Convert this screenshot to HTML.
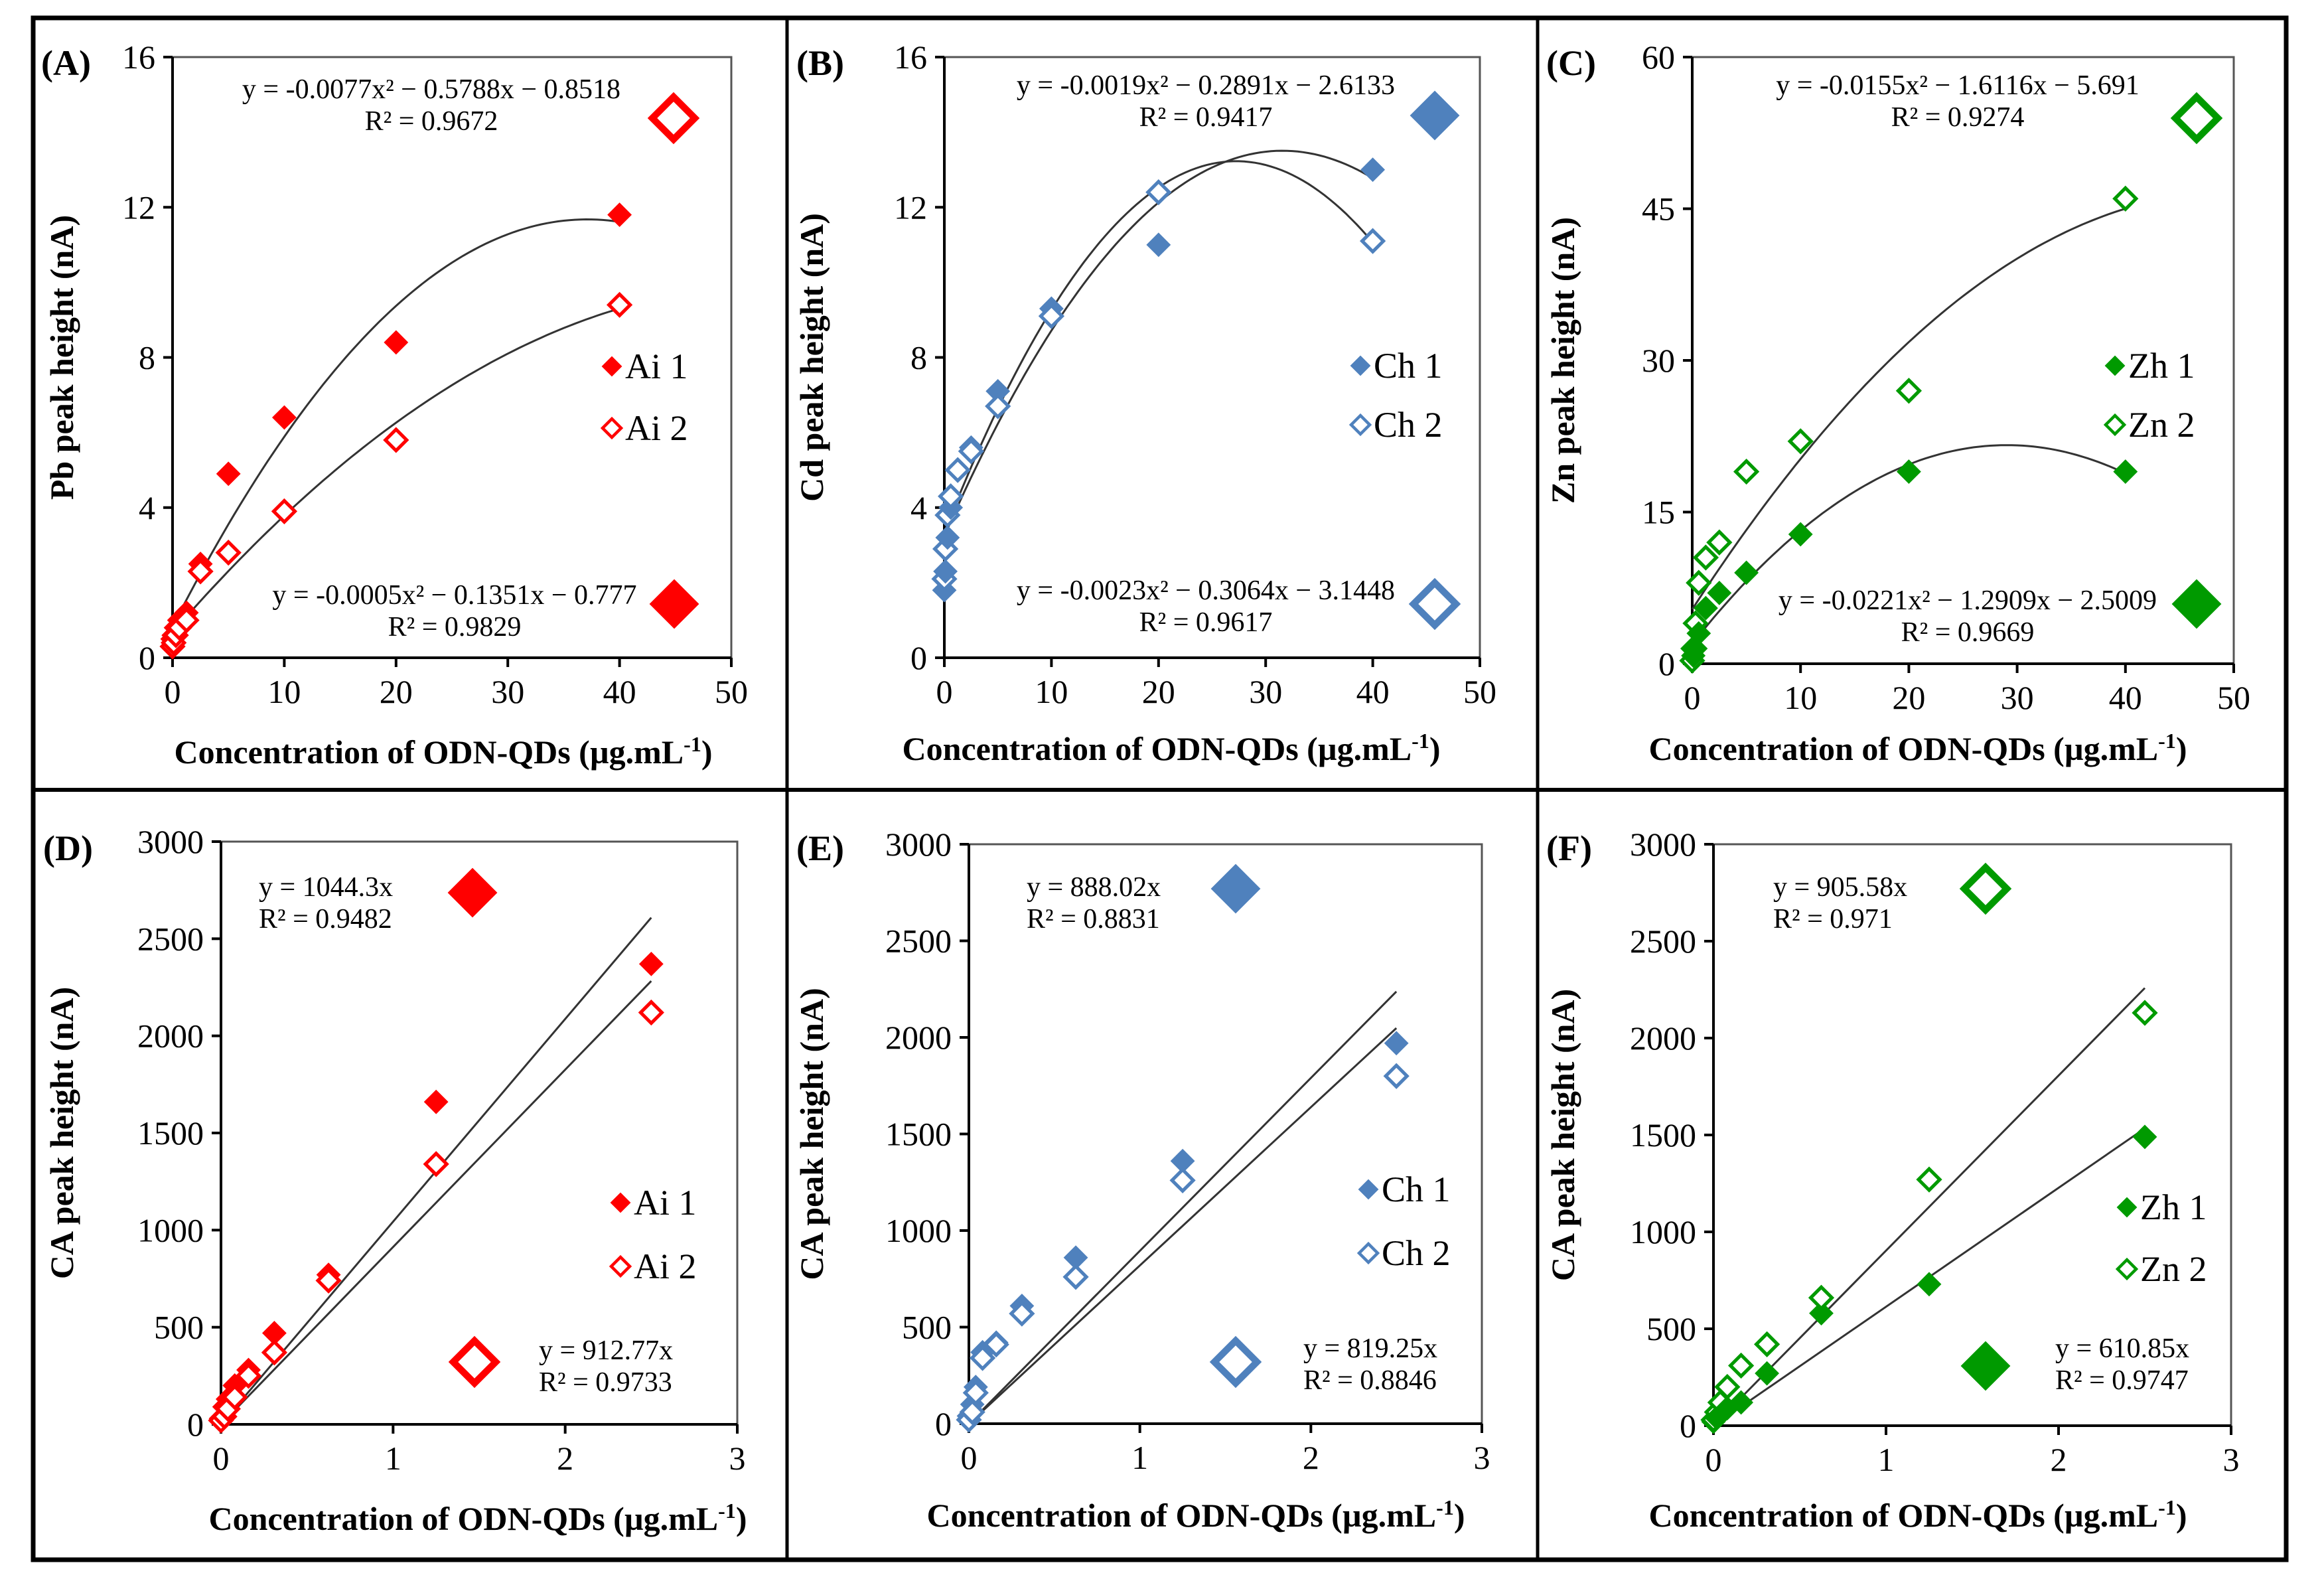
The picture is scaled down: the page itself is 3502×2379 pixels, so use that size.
<!DOCTYPE html>
<html><head><meta charset="utf-8">
<style>
html,body{margin:0;padding:0;background:#fff;}
svg{display:block;font-family:"Liberation Serif",serif;}
</style></head>
<body>
<svg id="fig" width="3502" height="2379" viewBox="0 0 3502 2379" xmlns="http://www.w3.org/2000/svg">
<rect x="50" y="27" width="3395" height="2323" fill="none" stroke="#000" stroke-width="7"/>
<line x1="1186" y1="27" x2="1186" y2="2350" stroke="#000" stroke-width="5"/>
<line x1="2317" y1="27" x2="2317" y2="2350" stroke="#000" stroke-width="5"/>
<line x1="50" y1="1190" x2="3445" y2="1190" stroke="#000" stroke-width="6"/>
</svg>
<script>
// ---- shared x categories ----
const xTop = [0, 0.1, 0.3, 0.6, 1.25, 2.5, 5, 10, 20, 40];
const xBot = [0, 0.02, 0.04, 0.08, 0.16, 0.31, 0.625, 1.25, 2.5];
// ---- Panel A (Pb) ----
const aS1 = [0.5, 0.6, 0.8, 1.0, 1.2, 2.5, 4.9, 6.4, 8.4, 11.8];
const aS2 = [0.3, 0.4, 0.6, 0.8, 1.0, 2.3, 2.8, 3.9, 5.8, 9.4];
// ---- Panel B (Cd) ----
const bS1 = [1.8, 2.3, 3.2, 4.0, 5.0, 5.6, 7.1, 9.3, 11.0, 13.0];
const bS2 = [2.1, 2.9, 3.8, 4.3, 5.0, 5.5, 6.7, 9.1, 12.4, 11.1];
// ---- Panel C (Zn) ----
const cS1 = [0.3, 0.8, 1.5, 3.0, 5.5, 7.0, 9.0, 12.8, 19.0, 19.0];
const cS2 = [0.3, 1.5, 4.0, 8.0, 10.5, 12.0, 19.0, 22.0, 27.0, 46.0];
// ---- Panel D (Pb CA) ----
const dS1 = [30, 90, 130, 200, 280, 470, 770, 1660, 2370];
const dS2 = [20, 40, 80, 140, 250, 370, 740, 1340, 2120];
// ---- Panel E (Cd CA) ----
const eS1 = [40, 100, 190, 370, 420, 610, 860, 1360, 1970];
const eS2 = [20, 60, 160, 340, 410, 570, 760, 1260, 1800];
// ---- Panel F (Zn CA) ----
const fS1 = [20, 40, 60, 90, 120, 270, 580, 730, 1490];
const fS2 = [30, 70, 120, 200, 310, 420, 660, 1270, 2130];
// ---- tick labels ----
const xTicksTop = [0, 10, 20, 30, 40, 50];
const xTicksBot = [0, 1, 2, 3];
const yTicksPbCd = [0, 4, 8, 12, 16];
const yTicksZn = [0, 15, 30, 45, 60];
const yTicksCA = [0, 500, 1000, 1500, 2000, 2500, 3000];

const NS = "http://www.w3.org/2000/svg";
const svg = document.getElementById('fig');
function mk(tag, attrs, parent) {
  const e = document.createElementNS(NS, tag);
  for (const k in attrs) e.setAttribute(k, attrs[k]);
  (parent || svg).appendChild(e);
  return e;
}
function diamond(cx, cy, r, color, filled, parent) {
  return mk('path', {d: `M${cx},${cy-r}L${cx+r},${cy}L${cx},${cy+r}L${cx-r},${cy}Z`,
    fill: filled ? color : '#fff', stroke: color, 'stroke-width': filled ? 2 : Math.max(4, r*0.32)}, parent);
}
function quadFit(xs, ys) {
  let s = [0,0,0,0,0], t = [0,0,0];
  for (let i = 0; i < xs.length; i++) {
    const x = xs[i], y = ys[i];
    for (let p = 0; p < 5; p++) s[p] += Math.pow(x, p);
    for (let p = 0; p < 3; p++) t[p] += y * Math.pow(x, p);
  }
  const M = [[s[0],s[1],s[2],t[0]],[s[1],s[2],s[3],t[1]],[s[2],s[3],s[4],t[2]]];
  for (let i = 0; i < 3; i++) {
    for (let j = i+1; j < 3; j++) {
      const f = M[j][i] / M[i][i];
      for (let k = i; k < 4; k++) M[j][k] -= f * M[i][k];
    }
  }
  const c = [0,0,0];
  for (let i = 2; i >= 0; i--) {
    let v = M[i][3];
    for (let k = i+1; k < 3; k++) v -= M[i][k] * c[k];
    c[i] = v / M[i][i];
  }
  return c;
}
function originFit(xs, ys) {
  let a = 0, b = 0;
  for (let i = 0; i < xs.length; i++) { a += xs[i]*ys[i]; b += xs[i]*xs[i]; }
  return a / b;
}

const panels = [
 {id:'a', label:'(A)', L:260, T:86, R:1102, B:991, xmax:50, ymax:16, xs:xTop, s1:aS1, s2:aS2, xt:xTicksTop, yt:yTicksPbCd,
  color:'#ff0000', ytitle:'Pb peak height (nA)', leg:['Ai 1','Ai 2'], fit:'quad',
  eq1:['y = -0.0077x² − 0.5788x − 0.8518','R² = 0.9672'], eq1pos:[650,148,'middle'],
  eq2:['y = -0.0005x² − 0.1351x − 0.777','R² = 0.9829'], eq2pos:[685,910,'middle'],
  big1:[1016,910], big2:[1015,178], legpos:[922,552,645], xtitle:[668,1150], ytx:110, lab:[62,95]},
 {id:'b', label:'(B)', L:1423, T:86, R:2230, B:991, xmax:50, ymax:16, xs:xTop, s1:bS1, s2:bS2, xt:xTicksTop, yt:yTicksPbCd,
  color:'#4f81bd', ytitle:'Cd peak height (nA)', leg:['Ch 1','Ch 2'], fit:'quad',
  eq1:['y = -0.0019x² − 0.2891x − 2.6133','R² = 0.9417'], eq1pos:[1817,142,'middle'],
  eq2:['y = -0.0023x² − 0.3064x − 3.1448','R² = 0.9617'], eq2pos:[1817,903,'middle'],
  big1:[2162,174], big2:[2162,910], legpos:[2050,551,640], xtitle:[1765,1145], ytx:1240, lab:[1200,95]},
 {id:'c', label:'(C)', L:2550, T:86, R:3366, B:1000, xmax:50, ymax:60, xs:xTop, s1:cS1, s2:cS2, xt:xTicksTop, yt:yTicksZn,
  color:'#009a00', ytitle:'Zn peak height (nA)', leg:['Zh 1','Zn 2'], fit:'quad',
  eq1:['y = -0.0155x² − 1.6116x − 5.691','R² = 0.9274'], eq1pos:[2950,142,'middle'],
  eq2:['y = -0.0221x² − 1.2909x − 2.5009','R² = 0.9669'], eq2pos:[2965,918,'middle'],
  big1:[3310,910], big2:[3310,178], legpos:[3187,551,640], xtitle:[2890,1145], ytx:2372, lab:[2330,95]},
 {id:'d', label:'(D)', L:333, T:1268, R:1111, B:2146, xmax:3, ymax:3000, xs:xBot, s1:dS1, s2:dS2, xt:xTicksBot, yt:yTicksCA,
  color:'#ff0000', ytitle:'CA peak height (nA)', leg:['Ai 1','Ai 2'], fit:'lin',
  eq1:['y = 1044.3x','R² = 0.9482'], eq1pos:[390,1350,'start'],
  eq2:['y = 912.77x','R² = 0.9733'], eq2pos:[812,2048,'start'],
  big1:[712,1345], big2:[715,2052], legpos:[935,1812,1908], xtitle:[720,2305], ytx:110, lab:[65,1278]},
 {id:'e', label:'(E)', L:1460, T:1272, R:2233, B:2145, xmax:3, ymax:3000, xs:xBot, s1:eS1, s2:eS2, xt:xTicksBot, yt:yTicksCA,
  color:'#4f81bd', ytitle:'CA peak height (nA)', leg:['Ch 1','Ch 2'], fit:'lin',
  eq1:['y = 888.02x','R² = 0.8831'], eq1pos:[1547,1350,'start'],
  eq2:['y = 819.25x','R² = 0.8846'], eq2pos:[1964,2045,'start'],
  big1:[1862,1339], big2:[1862,2052], legpos:[2062,1792,1888], xtitle:[1802,2300], ytx:1240, lab:[1200,1278]},
 {id:'f', label:'(F)', L:2582, T:1272, R:3362, B:2148, xmax:3, ymax:3000, xs:xBot, s1:fS1, s2:fS2, xt:xTicksBot, yt:yTicksCA,
  color:'#009a00', ytitle:'CA peak height (nA)', leg:['Zh 1','Zn 2'], fit:'lin',
  eq1:['y = 905.58x','R² = 0.971'], eq1pos:[2672,1350,'start'],
  eq2:['y = 610.85x','R² = 0.9747'], eq2pos:[3097,2045,'start'],
  big1:[2992,2058], big2:[2992,1339], legpos:[3205,1819,1912], xtitle:[2890,2300], ytx:2372, lab:[2330,1278]}
];

panels.forEach(p => {
  const g = mk('g', {});
  
  
  const sx = v => p.L + v / p.xmax * (p.R - p.L);
  const sy = v => p.B - v / p.ymax * (p.B - p.T);
  // frame
  const fr = mk('rect', {x:p.L, y:p.T, width:p.R-p.L, height:p.B-p.T, fill:'none', stroke:'#555', 'stroke-width':3}, g);
  
  
  const ax = mk('path', {d:`M${p.L},${p.T}V${p.B}H${p.R}`, fill:'none', stroke:'#000', 'stroke-width':4}, g);
  
  
  // x ticks
  p.xt.forEach(t => {
    const x = sx(t);
    mk('line', {x1:x, y1:p.B, x2:x, y2:p.B+14, stroke:'#000', 'stroke-width':4}, g);
    const tx = mk('text', {x:x, y:p.B+68, 'font-size':50, 'text-anchor':'middle'}, g);
    tx.textContent = t;
    
    
  });
  p.yt.forEach(t => {
    const y = sy(t);
    mk('line', {x1:p.L-14, y1:y, x2:p.L, y2:y, stroke:'#000', 'stroke-width':4}, g);
    const tx = mk('text', {x:p.L-26, y:y+17, 'font-size':50, 'text-anchor':'end'}, g);
    tx.textContent = t;
    
    
  });
  // trendlines
  [p.s1, p.s2].forEach((s, si) => {
    let d = '';
    if (p.fit === 'quad') {
      const c = quadFit(p.xs, s);
      for (let i = 0; i <= 80; i++) {
        const x = p.xs[p.xs.length-1] * i / 80;
        d += (i ? 'L' : 'M') + sx(x).toFixed(1) + ',' + sy(c[0] + c[1]*x + c[2]*x*x).toFixed(1);
      }
    } else {
      const m = originFit(p.xs, s);
      const xe = p.xs[p.xs.length-1];
      d = `M${sx(0)},${sy(0)}L${sx(xe)},${sy(m*xe)}`;
    }
    const ln = mk('path', {d:d, fill:'none', stroke:'#333', 'stroke-width':3}, g);
    
    
  });
  // points
  p.xs.forEach((x, i) => {
    const m1 = diamond(sx(x), sy(p.s1[i]), 17, p.color, true, g);
    
    
    const m2 = diamond(sx(x), sy(p.s2[i]), 16, p.color, false, g);
    
    
  });
  // big markers
  const b1 = diamond(p.big1[0], p.big1[1], 36, p.color, true, g);
  
  
  const b2 = diamond(p.big2[0], p.big2[1], 32, p.color, false, g);
  
  
  // equations
  [[p.eq1, p.eq1pos, 'equation-top'], [p.eq2, p.eq2pos, 'equation-bottom']].forEach(([eq, pos, nm]) => {
    eq.forEach((line, k) => {
      const t = mk('text', {x:pos[0], y:pos[1] + k*48, 'font-size':42, 'text-anchor':pos[2]}, g);
      t.textContent = line;
      
      
    });
  });
  // legend
  p.leg.forEach((name, k) => {
    const y = p.legpos[1 + k];
    const lm = diamond(p.legpos[0], y, 14, p.color, k === 0, g);
    
    
    const t = mk('text', {x:p.legpos[0] + 20, y:y + 18, 'font-size':54}, g);
    t.textContent = name;
    
    
  });
  // axis titles
  const xtl = mk('text', {x:p.xtitle[0], y:p.xtitle[1], 'font-size':50, 'font-weight':'bold', 'text-anchor':'middle'}, g);
  xtl.innerHTML = 'Concentration of ODN-QDs (µg.mL<tspan dy="-18" font-size="32">-1</tspan><tspan dy="18">)</tspan>';
  
  
  const cy = (p.T + p.B) / 2;
  const ytl = mk('text', {x:p.ytx, y:cy, 'font-size':50, 'font-weight':'bold', 'text-anchor':'middle', transform:`rotate(-90 ${p.ytx} ${cy})`}, g);
  ytl.textContent = p.ytitle;
  
  
  const pl = mk('text', {x:p.lab[0], y:p.lab[1] + 18, 'font-size':54, 'font-weight':'bold'}, g);
  pl.textContent = p.label;
  
  
});
</script>
</body></html>
